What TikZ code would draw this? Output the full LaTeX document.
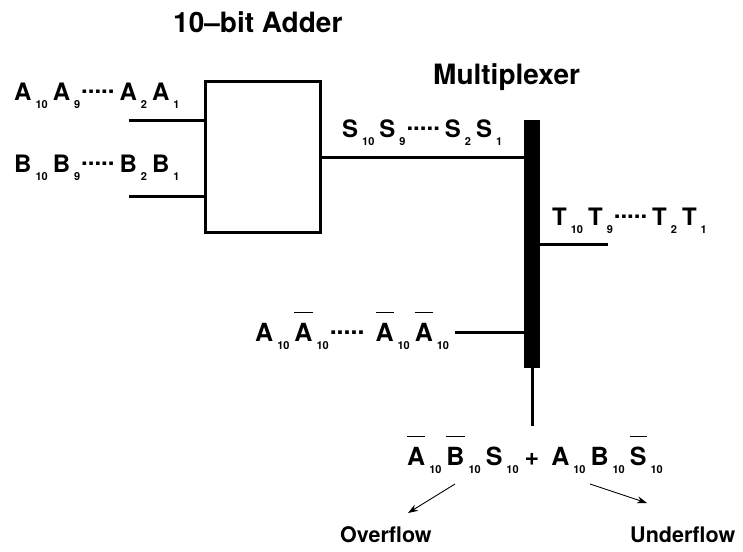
\documentclass[tikz,border=0pt]{standalone}
\usepackage{fontspec}
\setmainfont{TeX Gyre Heros}
\usetikzlibrary{arrows.meta}
\newcommand\sbt[1]{\hspace{4pt}\raisebox{-8pt}{\fontsize{11}{12}\selectfont #1}\hspace{5pt}}
\newcommand\dts{\hspace{-4pt}\raisebox{7pt}{.....}\hspace{5pt}}
\newcommand\ovl[1]{\setbox0\hbox{#1}\rlap{\raisebox{28pt}{\rule{\wd0}{0.8pt}}}\box0}
\begin{document}
\begin{tikzpicture}[x=1pt,y=-1pt,
  wire/.style={line width=3pt},
  lbl/.style={inner sep=0pt, anchor=base west, font=\bfseries\fontsize{24}{26}\selectfont},
  biglbl/.style={inner sep=0pt, anchor=base west, font=\bfseries\fontsize{25}{28}\selectfont},
  ttl/.style={inner sep=0pt, anchor=base west, font=\bfseries\fontsize{28}{32}\selectfont},
  note/.style={inner sep=0pt, anchor=base west, font=\bfseries\fontsize{21.5}{24}\selectfont},
  arr/.style={line width=0.9pt, -{Stealth[length=10pt,width=7pt]}}]
\useasboundingbox (0,0) rectangle (743,551);
% titles
\node[ttl] (tadd) at (173,33) {10\textendash bit Adder};
\node[ttl] (tmux) at (433,84) {Multiplexer};
% adder box and mux bar
\node[draw, line width=3pt, minimum width=115pt, minimum height=151pt, inner sep=0pt] (adder) at (263,157) {};
\node[fill=black, minimum width=16pt, minimum height=248pt, inner sep=0pt] (mux) at (532,244) {};
% labels
\node[lbl] (alab) at (14,100) {A\sbt{10}A\sbt{9}\dts A\sbt{2}A\sbt{1}};
\node[lbl] (blab) at (14,172) {B\sbt{10}B\sbt{9}\dts B\sbt{2}B\sbt{1}};
\node[lbl] (slab) at (342,137) {S\sbt{10}S\sbt{9}\dts S\sbt{2}S\sbt{1}};
\node[lbl] (tlab) at (552,225) {T\sbt{10}T\sbt{9}\dts T\sbt{2}T\sbt{1}};
\node[biglbl] (nlab) at (255,341) {A\sbt{10}\ovl{A}\sbt{10}\dts\hspace{6pt}\ovl{A}\sbt{10}\ovl{A}\sbt{10}};
\node[biglbl] (expr) at (407,465) {\ovl{A}\sbt{10}\ovl{B}\sbt{10}S\sbt{10}\hspace{1pt}+\hspace{12pt}A\sbt{10}B\sbt{10}\ovl{S}\sbt{10}};
\node[note] (ovf) at (340,542) {Overflow};
\node[note] (udf) at (630,542) {Underflow};
% wires
\coordinate (ain) at (129,120);
\coordinate (bin) at (129,196);
\coordinate (sl) at (0,157);
\coordinate (tend) at (608,244);
\coordinate (nin) at (455,332);
\coordinate (bot) at (532,426);
\draw[wire] (ain) -- (ain -| adder.west);
\draw[wire] (bin) -- (bin -| adder.west);
\draw[wire] (adder.east |- sl) -- (mux.west |- sl);
\draw[wire] (mux.east |- tend) -- (tend);
\draw[wire] (nin) -- (nin -| mux.west);
\draw[wire] (mux.south) -- (bot);
% arrows
\coordinate (o1) at (455,484);
\coordinate (o2) at (408,513);
\coordinate (u1) at (590,484);
\coordinate (u2) at (647,503);
\draw[arr] (o1) -- (o2);
\draw[arr] (u1) -- (u2);
\end{tikzpicture}
\end{document}
